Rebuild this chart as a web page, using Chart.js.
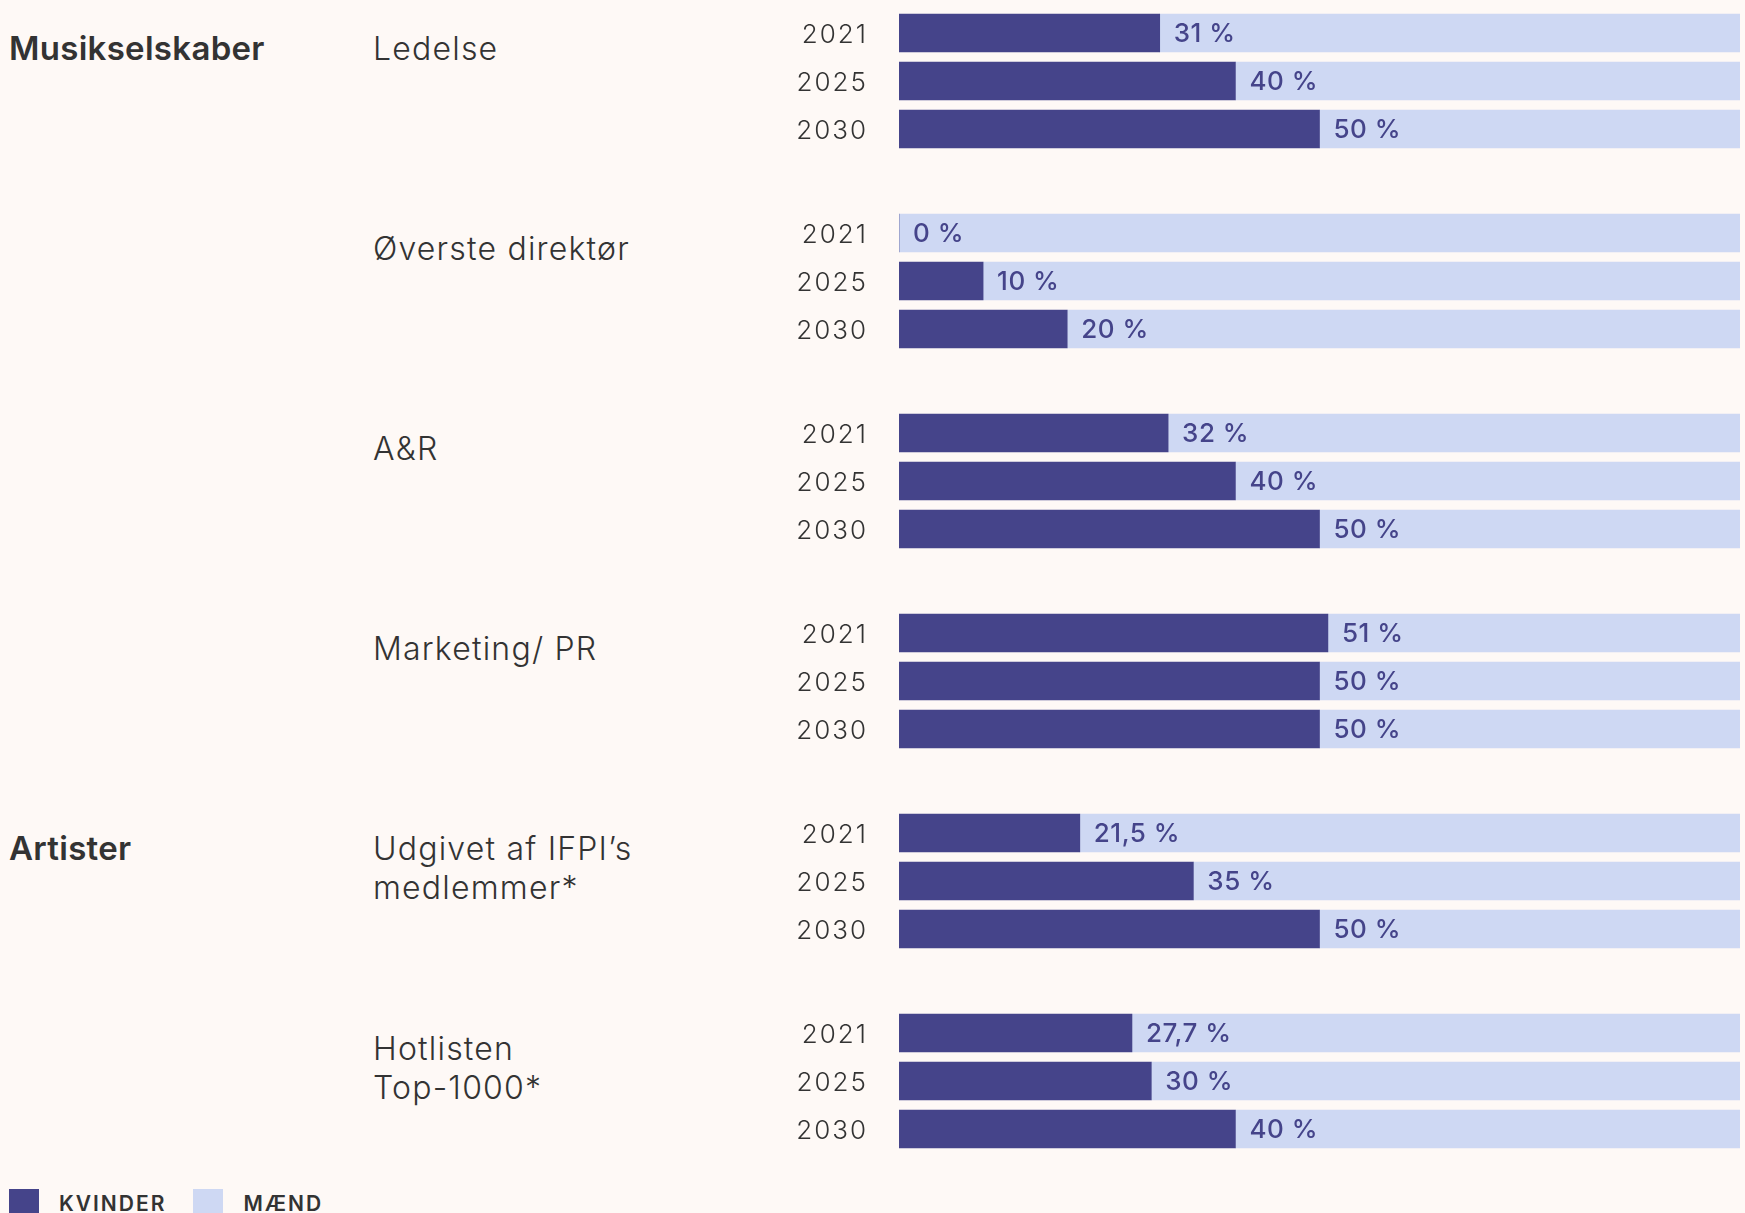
<!DOCTYPE html>
<html>
<head>
<meta charset="utf-8">
<script src="https://cdn.jsdelivr.net/npm/chart.js@4.4.1/dist/chart.umd.min.js"></script>
<style>
  html, body { margin: 0; padding: 0; }
  body {
    width: 1745px; height: 1213px; overflow: hidden; position: relative;
    background: #fef9f6; font-family: Inter, 'Noto Sans', sans-serif; color: #333;
  }
  .section { position: absolute; left: 9px; font-size: 33px; font-weight: 600; line-height: 39px; letter-spacing: 0.3px; }
  .group { position: absolute; left: 373px; font-size: 32px; font-weight: 300; line-height: 39px; letter-spacing: 1.2px; }
  .box { position: absolute; left: 780px; width: 965px; height: 144px; }
  .legend { position: absolute; top: 1189px; left: 9px; display: flex; align-items: flex-start; }
  .legend .sw { width: 30px; height: 30px; margin-right: 20px; }
  .legend .txt { font-size: 21px; font-weight: 600; letter-spacing: 2px; line-height: 30px; margin-right: 27px; }
</style>
</head>
<body>
<div id="root"></div>
<div class="legend">
  <div class="sw" style="background:#45448a"></div><div class="txt">KVINDER</div>
  <div class="sw" style="background:#ced8f3"></div><div class="txt">MÆND</div>
</div>
<script>
// ── Data ───────────────────────────────────────────────
const YEARS = ['2021', '2025', '2030'];
const GROUPS = ['Ledelse', 'Øverste direktør', 'A&R', 'Marketing/ PR', "Udgivet af IFPI’s\nmedlemmer*", 'Hotlisten\nTop-1000*'];
const SECTIONS = { 0: 'Musikselskaber', 4: 'Artister' };

const LEDELSE   = [31, 40, 50];
const DIREKTOER = [0, 10, 20];
const AR        = [32, 40, 50];
const MARKETING = [51, 50, 50];
const UDGIVET   = [21.5, 35, 50];
const HOTLISTEN = [27.7, 30, 40];
const KVINDER = [LEDELSE, DIREKTOER, AR, MARKETING, UDGIVET, HOTLISTEN];

const DARK  = '#45448a';
const LIGHT = '#ced8f3';

// wider text on the canvas, closer to the original typeface
const spacing = {
    id: 'spacing',
    beforeDraw(chart) { chart.ctx.letterSpacing = '2px'; }
};

// ── Value labels on the women bars ─────────────────────
const valueLabels = {
    id: 'valueLabels',
    afterDatasetsDraw(chart) {
        const ctx = chart.ctx;
        const meta = chart.getDatasetMeta(0);
        const vals = chart.data.datasets[0].data;
        ctx.save();
        ctx.letterSpacing = '0.5px';
        ctx.font = '500 26px Inter, "Noto Sans", sans-serif';
        ctx.fillStyle = DARK;
        ctx.textBaseline = 'middle';
        meta.data.forEach((bar, i) => {
            const txt = String(vals[i]).replace('.', ',') + ' %';
            ctx.fillText(txt, bar.x + 14, bar.y + 1);
        });
        ctx.restore();
    }
};

const root = document.getElementById('root');

GROUPS.forEach((name, g) => {
    const top = 9 + 200 * g;

    if (SECTIONS[g]) {
        const s = document.createElement('div');
        s.className = 'section';
        s.style.top = (top + 20) + 'px';
        s.textContent = SECTIONS[g];
        root.appendChild(s);
    }

    const lab = document.createElement('div');
    lab.className = 'group';
    lab.style.top = (top + 20) + 'px';
    lab.innerHTML = name.split('\n').map(t => t.replace(/&/g, '&amp;')).join('<br>');
    root.appendChild(lab);

    const box = document.createElement('div');
    box.className = 'box';
    box.style.top = top + 'px';
    const cv = document.createElement('canvas');
    box.appendChild(cv);
    root.appendChild(box);

    const women = KVINDER[g];
    const men = women.map(v => 100 - v);

    new Chart(cv, {
        type: 'bar',
        data: {
            labels: YEARS,
            datasets: [
                { label: 'Kvinder', data: women, backgroundColor: DARK, barThickness: 38 },
                { label: 'Mænd',    data: men,   backgroundColor: LIGHT, barThickness: 38 },
            ],
        },
        options: {
            indexAxis: 'y',
            responsive: true,
            maintainAspectRatio: false,
            animation: false,
            layout: { padding: { left: 0, right: 5, top: 0, bottom: 0 } },
            plugins: { legend: { display: false }, tooltip: { enabled: false } },
            scales: {
                x: { stacked: true, min: 0, max: 100, display: false },
                y: {
                    stacked: true,
                    grid: { display: false, drawTicks: false },
                    border: { display: false },
                    ticks: {
                        color: '#333',
                        padding: 31,
                        labelOffset: 2,
                        font: { family: 'Inter, "Noto Sans", sans-serif', size: 26, weight: 300 },
                    },
                    afterFit(scale) {
                        scale.width = 119;
                        scale.paddingTop = 0;
                        scale.paddingBottom = 0;
                    },
                },
            },
        },
        plugins: [spacing, valueLabels],
    });
});
</script>
</body>
</html>
